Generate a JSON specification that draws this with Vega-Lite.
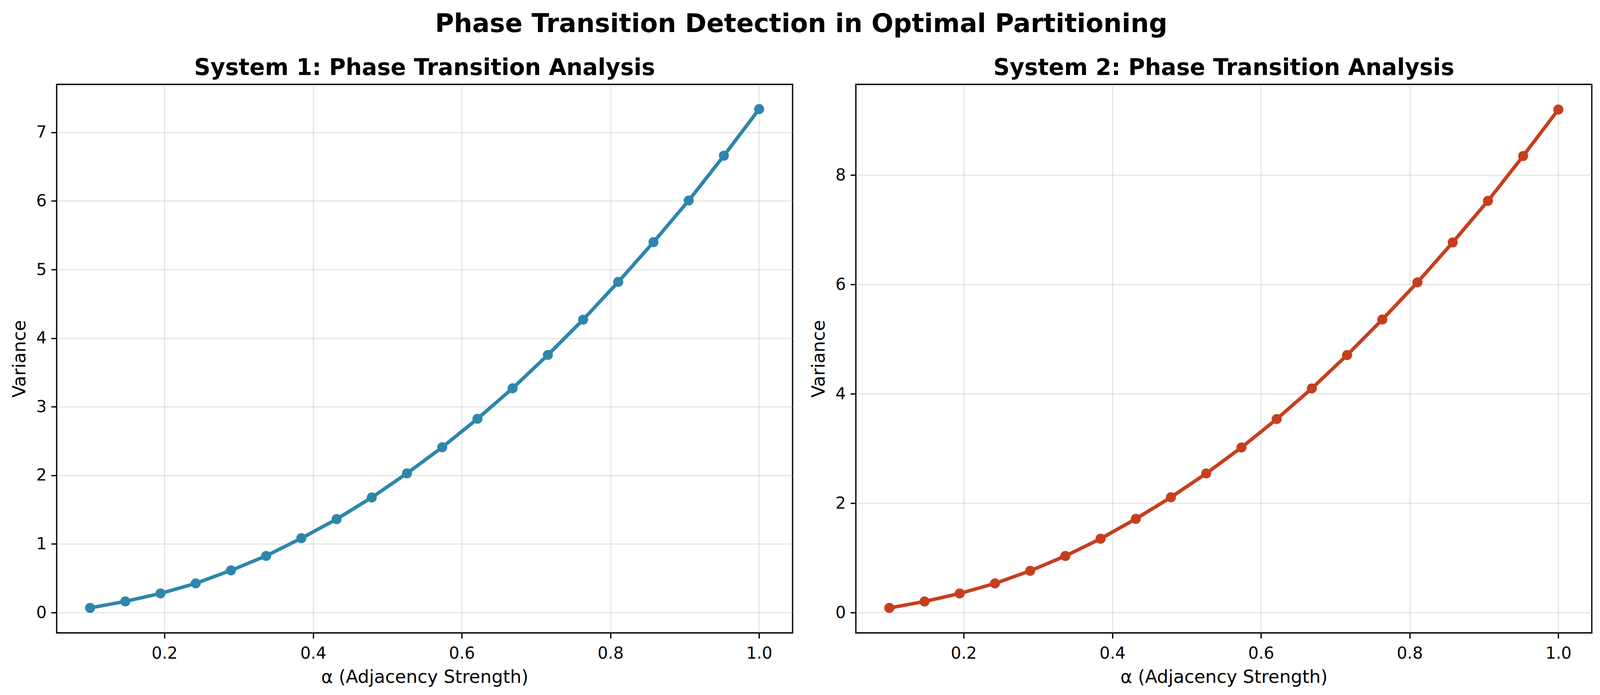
{
  "$schema": "https://vega.github.io/schema/vega-lite/v6.json",
  "background": "white",
  "padding": {"left": 25, "right": 24, "top": 29, "bottom": 8},
  "title": {"text": "Phase Transition Detection in Optimal Partitioning", "fontSize": 66, "fontWeight": "bold", "font": "DejaVu Sans", "anchor": "middle", "offset": 48, "color": "black"},
  "datasets": {
    "s1": [
      {"alpha": 0.1, "variance": 0.068},
      {"alpha": 0.1474, "variance": 0.163},
      {"alpha": 0.1947, "variance": 0.279},
      {"alpha": 0.2421, "variance": 0.426},
      {"alpha": 0.2895, "variance": 0.615},
      {"alpha": 0.3368, "variance": 0.826},
      {"alpha": 0.3842, "variance": 1.084},
      {"alpha": 0.4316, "variance": 1.362},
      {"alpha": 0.4789, "variance": 1.678},
      {"alpha": 0.5263, "variance": 2.03},
      {"alpha": 0.5737, "variance": 2.41},
      {"alpha": 0.6211, "variance": 2.825},
      {"alpha": 0.6684, "variance": 3.27},
      {"alpha": 0.7158, "variance": 3.756},
      {"alpha": 0.7632, "variance": 4.27},
      {"alpha": 0.8105, "variance": 4.82},
      {"alpha": 0.8579, "variance": 5.4},
      {"alpha": 0.9053, "variance": 6.007},
      {"alpha": 0.9526, "variance": 6.66},
      {"alpha": 1.0, "variance": 7.34}
    ],
    "s2": [
      {"alpha": 0.1, "variance": 0.086},
      {"alpha": 0.1474, "variance": 0.204},
      {"alpha": 0.1947, "variance": 0.35},
      {"alpha": 0.2421, "variance": 0.534},
      {"alpha": 0.2895, "variance": 0.765},
      {"alpha": 0.3368, "variance": 1.036},
      {"alpha": 0.3842, "variance": 1.352},
      {"alpha": 0.4316, "variance": 1.715},
      {"alpha": 0.4789, "variance": 2.11},
      {"alpha": 0.5263, "variance": 2.546},
      {"alpha": 0.5737, "variance": 3.02},
      {"alpha": 0.6211, "variance": 3.54},
      {"alpha": 0.6684, "variance": 4.1},
      {"alpha": 0.7158, "variance": 4.71},
      {"alpha": 0.7632, "variance": 5.36},
      {"alpha": 0.8105, "variance": 6.04},
      {"alpha": 0.8579, "variance": 6.77},
      {"alpha": 0.9053, "variance": 7.53},
      {"alpha": 0.9526, "variance": 8.35},
      {"alpha": 1.0, "variance": 9.2}
    ]
  },
  "spacing": 40,
  "hconcat": [
    {
      "width": 1884,
      "height": 1404,
      "title": {"text": "System 1: Phase Transition Analysis"},
      "data": {"name": "s1"},
      "mark": {"type": "line", "color": "#2E86AB", "strokeWidth": 9, "point": {"filled": true, "size": 660, "color": "#2E86AB", "opacity": 1}},
      "encoding": {
        "x": {"field": "alpha", "type": "quantitative", "scale": {"domain": [0.055, 1.045], "nice": false, "zero": false}, "axis": {"values": [0.2, 0.4, 0.6, 0.8, 1.0], "format": ".1f", "title": "α (Adjacency Strength)", "labelPadding": 18}},
        "y": {"field": "variance", "type": "quantitative", "scale": {"domain": [-0.296, 7.7], "nice": false, "zero": false}, "axis": {"values": [0, 1, 2, 3, 4, 5, 6, 7], "title": "Variance"}}
      }
    },
    {
      "width": 1884,
      "height": 1404,
      "title": {"text": "System 2: Phase Transition Analysis"},
      "data": {"name": "s2"},
      "mark": {"type": "line", "color": "#C73E1D", "strokeWidth": 9, "point": {"filled": true, "size": 660, "color": "#C73E1D", "opacity": 1}},
      "encoding": {
        "x": {"field": "alpha", "type": "quantitative", "scale": {"domain": [0.055, 1.045], "nice": false, "zero": false}, "axis": {"values": [0.2, 0.4, 0.6, 0.8, 1.0], "format": ".1f", "title": "α (Adjacency Strength)", "labelPadding": 18}},
        "y": {"field": "variance", "type": "quantitative", "scale": {"domain": [-0.37, 9.66], "nice": false, "zero": false}, "axis": {"values": [0, 2, 4, 6, 8], "title": "Variance"}}
      }
    }
  ],
  "config": {
    "font": "DejaVu Sans",
    "view": {"stroke": "black", "strokeWidth": 3.3},
    "axis": {"domain": false, "tickColor": "black", "tickSize": 14, "tickWidth": 3.3, "labelFontSize": 42, "labelColor": "black", "labelPadding": 12, "titleFontSize": 46, "titleFontWeight": "normal", "titleColor": "black", "titlePadding": 18, "gridColor": "#b0b0b0", "gridOpacity": 0.3, "gridWidth": 3.3, "labelFont": "DejaVu Sans", "titleFont": "DejaVu Sans"},
    "title": {"fontSize": 58, "fontWeight": "bold", "color": "black", "offset": 12, "font": "DejaVu Sans"}
  }
}
